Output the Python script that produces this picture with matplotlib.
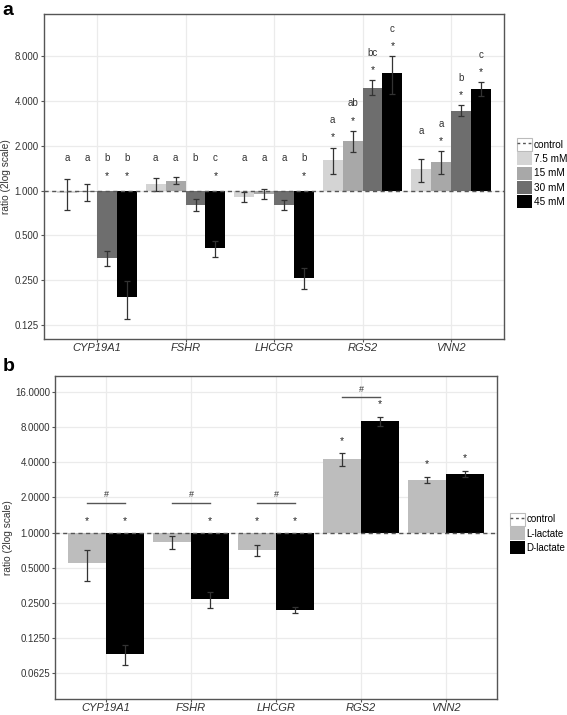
import numpy as np
import matplotlib
matplotlib.use("Agg")
import matplotlib.pyplot as plt
from matplotlib.patches import Patch
from matplotlib.lines import Line2D
from matplotlib.legend_handler import HandlerTuple
from matplotlib.ticker import FixedLocator, FixedFormatter, NullLocator

plt.rcParams['font.family'] = ['Liberation Sans', 'DejaVu Sans']

genes = ['CYP19A1', 'FSHR', 'LHCGR', 'RGS2', 'VNN2']

# Panel a
conc_labels = ['7.5 mM', '15 mM', '30 mM', '45 mM']
conc_colors = ['#d4d4d4', '#a8a8a8', '#6e6e6e', '#000000']
a_mean_75 = [0.97, 1.11, 0.91, 1.62, 1.39]
a_mean_15 = [0.98, 1.17, 0.95, 2.17, 1.57]
a_mean_30 = [0.354, 0.80, 0.80, 4.94, 3.46]
a_mean_45 = [0.193, 0.41, 0.26, 6.23, 4.86]
a_se_75 = [0.225, 0.11, 0.065, 0.33, 0.25]
a_se_15 = [0.13, 0.06, 0.07, 0.36, 0.28]
a_se_30 = [0.04, 0.075, 0.06, 0.57, 0.30]
a_se_45 = [0.056, 0.05, 0.04, 1.77, 0.52]
a_letters_75 = ['a', 'a', 'a', 'a', 'a']
a_letters_15 = ['a', 'a', 'a', 'ab', 'a']
a_letters_30 = ['b', 'b', 'a', 'bc', 'b']
a_letters_45 = ['b', 'c', 'b', 'c', 'c']
a_star_75 = [0, 0, 0, 1, 0]
a_star_15 = [0, 0, 0, 1, 1]
a_star_30 = [1, 0, 0, 1, 1]
a_star_45 = [1, 1, 1, 1, 1]
a_yticks = [0.125, 0.25, 0.5, 1, 2, 4, 8]
a_yticklabels = ['0.125', '0.250', '0.500', '1.000', '2.000', '4.000', '8.000']

# Panel b
lac_labels = ['L-lactate', 'D-lactate']
lac_colors = ['#bdbdbd', '#000000']
b_mean_L = [0.546, 0.83, 0.71, 4.24, 2.83]
b_mean_D = [0.091, 0.27, 0.217, 8.95, 3.18]
b_se_L = [0.16, 0.10, 0.08, 0.55, 0.17]
b_se_D = [0.018, 0.043, 0.014, 0.85, 0.20]
b_star_L = [1, 0, 1, 1, 1]
b_star_D = [1, 1, 1, 1, 1]
b_hash = [1, 1, 1, 1, 0]
b_yticks = [0.0625, 0.125, 0.25, 0.5, 1, 2, 4, 8, 16]
b_yticklabels = ['0.0625', '0.1250', '0.2500', '0.5000', '1.0000', '2.0000',
                 '4.0000', '8.0000', '16.0000']

fig = plt.figure(figsize=(5.67, 7.15), dpi=100)
SPINE = '#555555'
GRID = '#ebebeb'


def style_axes(ax, yticks, ylabels, ylim, ylabel_x):
    ax.set_yscale('log')
    ax.set_ylim(*ylim)
    ax.yaxis.set_major_locator(FixedLocator(yticks))
    ax.yaxis.set_major_formatter(FixedFormatter(ylabels))
    ax.yaxis.set_minor_locator(NullLocator())
    ax.set_xlim(-0.6, len(genes) - 0.4)
    ax.set_xticks(range(len(genes)))
    ax.set_xticklabels(genes, fontstyle='italic', fontsize=8)
    for s in ax.spines.values():
        s.set_color(SPINE)
        s.set_linewidth(1.0)
    ax.tick_params(axis='both', colors=SPINE, length=2.2, width=0.8,
                   labelcolor='#333333', labelsize=7, pad=1.5)
    ax.tick_params(axis='x', labelsize=8, pad=1.0)
    ax.grid(True, color=GRID, linewidth=0.9)
    ax.set_axisbelow(True)
    ax.set_ylabel('ratio (2log scale)', fontsize=7.3, color='#333333')
    ax.yaxis.set_label_coords(ylabel_x, 0.5)
    ax.axhline(1.0, color='#555555', linestyle=(0, (3, 2.5)), linewidth=1.0, zorder=4)


def control_handle():
    return (Patch(facecolor='white', edgecolor='#bbbbbb', linewidth=0.8),
            Line2D([0], [0], color='#555555', linestyle=(0, (2, 2)), linewidth=1.0))


# ---------- Panel a ----------
axa = fig.add_axes([0.0776, 0.526, 0.8114, 0.454])
style_axes(axa, a_yticks, a_yticklabels, (2 ** -3.31, 2 ** 3.94), -0.072)
means_a = [a_mean_75, a_mean_15, a_mean_30, a_mean_45]
ses_a = [a_se_75, a_se_15, a_se_30, a_se_45]
letters_a = [a_letters_75, a_letters_15, a_letters_30, a_letters_45]
stars_a = [a_star_75, a_star_15, a_star_30, a_star_45]
w = 0.225
x = np.arange(len(genes))
for i in range(4):
    xi = x + (i - 1.5) * w
    m = np.array(means_a[i])
    se = np.array(ses_a[i])
    axa.bar(xi, m - 1, bottom=1, width=w, color=conc_colors[i], zorder=2)
    axa.errorbar(xi, m, yerr=se, fmt='none', ecolor='#333333', elinewidth=0.9,
                 capsize=2.2, capthick=0.9, zorder=3)
    for j in range(len(genes)):
        top = m[j] + se[j]
        ref = top if top > 1.4 else 1.08
        if stars_a[i][j]:
            axa.text(xi[j], ref * 1.17, '*', ha='center', va='center', fontsize=7.5,
                     color='#222222')
        axa.text(xi[j], ref * 1.53, letters_a[i][j], ha='center', va='center',
                 fontsize=7, color='#333333')

handles_a = [control_handle()]
handles_a += [Patch(facecolor=c, edgecolor='none') for c in conc_colors]
fig.legend(handles_a, ['control'] + conc_labels, loc='upper left',
           bbox_to_anchor=(0.911, 0.807), frameon=False, fontsize=7.2,
           handlelength=1.5, handleheight=1.62, handletextpad=0.2,
           labelspacing=0.13, borderpad=0.0, borderaxespad=0.0,
           handler_map={tuple: HandlerTuple(ndivide=1)})

# ---------- Panel b ----------
axb = fig.add_axes([0.097, 0.0225, 0.7795, 0.4515])
style_axes(axb, b_yticks, b_yticklabels, (2 ** -4.73, 2 ** 4.45), -0.096)
means_b = [b_mean_L, b_mean_D]
ses_b = [b_se_L, b_se_D]
stars_b = [b_star_L, b_star_D]
wb = 0.45
star_tops = np.zeros((2, len(genes)))
for i in range(2):
    xi = x + (i - 0.5) * wb
    m = np.array(means_b[i])
    se = np.array(ses_b[i])
    axb.bar(xi, m - 1, bottom=1, width=wb, color=lac_colors[i], zorder=2)
    axb.errorbar(xi, m, yerr=se, fmt='none', ecolor='#333333', elinewidth=0.9,
                 capsize=2.2, capthick=0.9, zorder=3)
    for j in range(len(genes)):
        top = m[j] + se[j]
        ref = top if top > 1.4 else 0.985
        star_tops[i, j] = ref * 1.28
        if stars_b[i][j]:
            axb.text(xi[j], ref * 1.28, '*', ha='center', va='center', fontsize=7.5,
                     color='#222222')
for j in range(len(genes)):
    if b_hash[j]:
        ly = max(star_tops[:, j].max() * 1.15, 1.8)
        axb.plot([x[j] - wb / 2, x[j] + wb / 2], [ly, ly], color='#555555',
                 linewidth=1.0, zorder=3)
        axb.annotate('#', (x[j], ly), xytext=(0, 2.5), textcoords='offset points',
                     ha='center', va='bottom', fontsize=6.5, color='#333333')

handles_b = [control_handle()]
handles_b += [Patch(facecolor=c, edgecolor='none') for c in lac_colors]
fig.legend(handles_b, ['control'] + lac_labels, loc='upper left',
           bbox_to_anchor=(0.899, 0.283), frameon=False, fontsize=7.0,
           handlelength=1.55, handleheight=1.7, handletextpad=0.15,
           labelspacing=0.12, borderpad=0.0, borderaxespad=0.0,
           handler_map={tuple: HandlerTuple(ndivide=1)})

fig.text(0.004, 0.997, 'a', fontsize=14, fontweight='bold', va='top', ha='left')
fig.text(0.004, 0.499, 'b', fontsize=14, fontweight='bold', va='top', ha='left')

fig.savefig('out.png', dpi=100)
